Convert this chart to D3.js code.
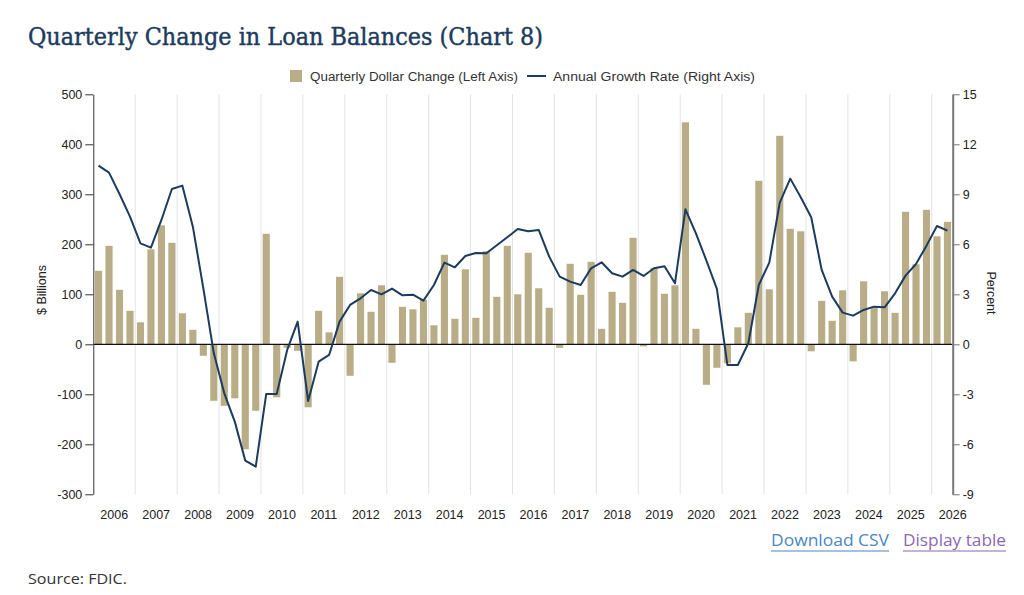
<!DOCTYPE html>
<html>
<head>
<meta charset="utf-8">
<script src="https://cdn.jsdelivr.net/npm/d3@7"></script>
<style>
  body { margin: 0; background: #fff; }
  svg { display: block; }
</style>
</head>
<body>
<div id="vis"></div>
<script>
// chart values (one per quarter, 2006 Q1 onward)
var years = [2006, 2007, 2008, 2009, 2010, 2011, 2012, 2013, 2014, 2015, 2016,
  2017, 2018, 2019, 2020, 2021, 2022, 2023, 2024, 2025, 2026];

// quarterly dollar change, $ billions (left axis)
var dollarChange = [
  147, 197, 109, 67, 44, 190, 238, 203, 62, 29,
  -23, -113, -123, -108, -210, -133, 221, -106, -7, -13,
  -126, 67, 24, 135, -63, 102, 65, 118, -37, 75,
  70, 89, 38, 179, 51, 150, 53, 186, 95, 197,
  100, 183, 112, 73, -7, 161, 99, 165, 31, 105,
  83, 213, -4, 153, 101, 118, 444, 31, -81, -47,
  -38, 34, 63, 327, 110, 417, 231, 226, -14, 87,
  47, 108, -34, 126, 75, 106, 63, 265, 160, 269,
  216, 245
];

// annual growth rate, percent (right axis)
var growthRate = [
  10.72, 10.3, 9.02, 7.66, 6.06, 5.8, 7.46, 9.32, 9.52, 7.06,
  3.36, -0.54, -2.94, -4.64, -6.98, -7.34, -2.98, -2.98, -0.34, 1.36,
  -3.4, -1.04, -0.64, 1.36, 2.36, 2.76, 3.26, 3.0, 3.34, 2.94,
  2.98, 2.62, 3.56, 4.9, 4.62, 5.3, 5.48, 5.46, 5.94, 6.42,
  6.92, 6.78, 6.86, 5.26, 4.06, 3.76, 3.56, 4.56, 4.92, 4.26,
  4.06, 4.46, 4.1, 4.56, 4.68, 3.66, 8.1, 6.66, 5.02, 3.32,
  -1.24, -1.24, 0.06, 3.56, 4.9, 8.5, 9.94, 8.82, 7.62, 4.46,
  2.86, 1.9, 1.72, 2.06, 2.26, 2.22, 3.06, 4.12, 4.82, 5.92,
  7.1, 6.82
];

var leftTicks = [-300, -200, -100, 0, 100, 200, 300, 400, 500];
var rightTicks = [-9, -6, -3, 0, 3, 6, 9, 12, 15];

// quarter names, just for the data join
var quarters = dollarChange.map(function(d, i){
  return (2006 + Math.floor(i / 4)) + 'Q' + (i % 4 + 1);
});

var W = 1024, H = 595;
var plot = { left: 93.3, right: 952.7, top: 94.3, bottom: 494.3 };

var svg = d3.select('#vis')
  .append('svg')
  .attr('width', W)
  .attr('height', H)
  .attr('viewBox', [0, 0, W, H].join(' '));

// scales: x runs in quarter units, one band of 4 per year
var x = d3.scaleLinear().domain([0, quarters.length]).range([plot.left, plot.right]);
var yL = d3.scaleLinear().domain([-300, 500]).range([plot.bottom, plot.top]);
var yR = d3.scaleLinear().domain([-9, 15]).range([plot.bottom, plot.top]);

var navy = '#1d3b5e';
var tan = '#b8ad86';
var sans = '"Liberation Sans", Arial, Helvetica, sans-serif';
// plain hyphen for negatives, like the original
var plain = function(d){ return String(d); };

// title
svg.append('text')
  .attr('x', 28)
  .attr('y', 45)
  .attr('textLength', 515)
  .attr('lengthAdjust', 'spacingAndGlyphs')
  .style('font-family', '"DejaVu Serif", Georgia, serif')
  .style('font-size', '25px')
  .style('fill', navy)
  .style('stroke', navy)
  .style('stroke-width', '0.45px')
  .text('Quarterly Change in Loan Balances (Chart 8)');

// legend
var legend = svg.append('g').style('font-family', sans).style('font-size', '12.5px').style('fill', '#333');
legend.append('rect').attr('x', 290).attr('y', 70).attr('width', 12).attr('height', 12).attr('fill', tan);
legend.append('text').attr('x', 310).attr('y', 80.5)
  .attr('textLength', 208).attr('lengthAdjust', 'spacingAndGlyphs')
  .text('Quarterly Dollar Change (Left Axis)');
legend.append('line').attr('x1', 527).attr('x2', 546).attr('y1', 76).attr('y2', 76)
  .attr('stroke', navy).attr('stroke-width', 2);
legend.append('text').attr('x', 553).attr('y', 80.5)
  .attr('textLength', 202).attr('lengthAdjust', 'spacingAndGlyphs')
  .text('Annual Growth Rate (Right Axis)');

// vertical gridlines at year boundaries
var gridT = d3.range(4, quarters.length, 4);
svg.append('g').selectAll('line')
  .data(gridT)
  .join('line')
  .attr('x1', d => x(d)).attr('x2', d => x(d))
  .attr('y1', plot.top).attr('y2', plot.bottom)
  .attr('stroke', '#e3e3e3').attr('stroke-width', 1);

// bars
svg.append('g').selectAll('rect')
  .data(dollarChange)
  .join('rect')
  .attr('x', (d, i) => x(i + 0.16))
  .attr('width', x(0.68) - x(0))
  .attr('y', d => yL(Math.max(0, d)))
  .attr('height', d => Math.abs(yL(d) - yL(0)))
  .attr('fill', tan);

// zero line
svg.append('line')
  .attr('x1', plot.left).attr('x2', plot.right)
  .attr('y1', yL(0)).attr('y2', yL(0))
  .attr('stroke', '#111').attr('stroke-width', 1.2);

// growth line
var line = d3.line()
  .x((d, i) => x(i + 0.5))
  .y(d => yR(d));

svg.append('path')
  .datum(growthRate)
  .attr('d', line)
  .attr('fill', 'none')
  .attr('stroke', navy)
  .attr('stroke-width', 2)
  .attr('stroke-linejoin', 'round');

// left axis
var axisL = svg.append('g')
  .attr('transform', 'translate(' + plot.left + ',0)')
  .call(d3.axisLeft(yL).tickValues(leftTicks).tickFormat(plain)
    .tickSize(8).tickPadding(3).tickSizeOuter(0));
axisL.select('.domain').attr('stroke', '#333');
axisL.selectAll('.tick line').attr('stroke', '#333');
axisL.selectAll('text').style('font-family', sans).style('font-size', '12.5px').style('fill', '#222');

// right axis
var axisR = svg.append('g')
  .attr('transform', 'translate(' + plot.right + ',0)')
  .call(d3.axisRight(yR).tickValues(rightTicks).tickFormat(plain)
    .tickSize(7).tickPadding(3).tickSizeOuter(0));
axisR.select('.domain').attr('stroke', '#777').attr('stroke-width', 2);
axisR.selectAll('.tick line').attr('stroke', '#777');
axisR.selectAll('text').style('font-family', sans).style('font-size', '12.5px').style('fill', '#222');

// year labels in the middle of each band
svg.append('g').selectAll('text')
  .data(years)
  .join('text')
  .attr('x', (d, i) => x(i * 4 + 2))
  .attr('y', 519)
  .attr('text-anchor', 'middle')
  .style('font-family', sans)
  .style('font-size', '12.5px')
  .style('fill', '#222')
  .text(d => d);

// axis titles
svg.append('text')
  .attr('transform', 'translate(46,290) rotate(-90)')
  .attr('text-anchor', 'middle')
  .style('font-family', sans).style('font-size', '12.5px').style('fill', '#222')
  .text('$ Billions');
svg.append('text')
  .attr('transform', 'translate(987,293) rotate(90)')
  .attr('text-anchor', 'middle')
  .style('font-family', sans).style('font-size', '12.5px').style('fill', '#222')
  .text('Percent');

// links and source
var foot = '"Open Sans", "Noto Sans", sans-serif';
svg.append('text').attr('x', 771).attr('y', 546)
  .attr('textLength', 118).attr('lengthAdjust', 'spacingAndGlyphs')
  .style('font-family', foot).style('font-size', '17px').style('fill', '#4a86c2')
  .text('Download CSV');
svg.append('line').attr('x1', 771).attr('x2', 889).attr('y1', 551).attr('y2', 551)
  .attr('stroke', '#4a86c2').attr('stroke-width', 1.2);
svg.append('text').attr('x', 903).attr('y', 546)
  .attr('textLength', 103).attr('lengthAdjust', 'spacingAndGlyphs')
  .style('font-family', foot).style('font-size', '17px').style('fill', '#8c67b4')
  .text('Display table');
svg.append('line').attr('x1', 903).attr('x2', 1006).attr('y1', 551).attr('y2', 551)
  .attr('stroke', '#8c67b4').attr('stroke-width', 1.2);
svg.append('text').attr('x', 28).attr('y', 584)
  .attr('textLength', 99).attr('lengthAdjust', 'spacingAndGlyphs')
  .style('font-family', foot).style('font-size', '15px').style('fill', '#333')
  .text('Source: FDIC.');
</script>
</body>
</html>
